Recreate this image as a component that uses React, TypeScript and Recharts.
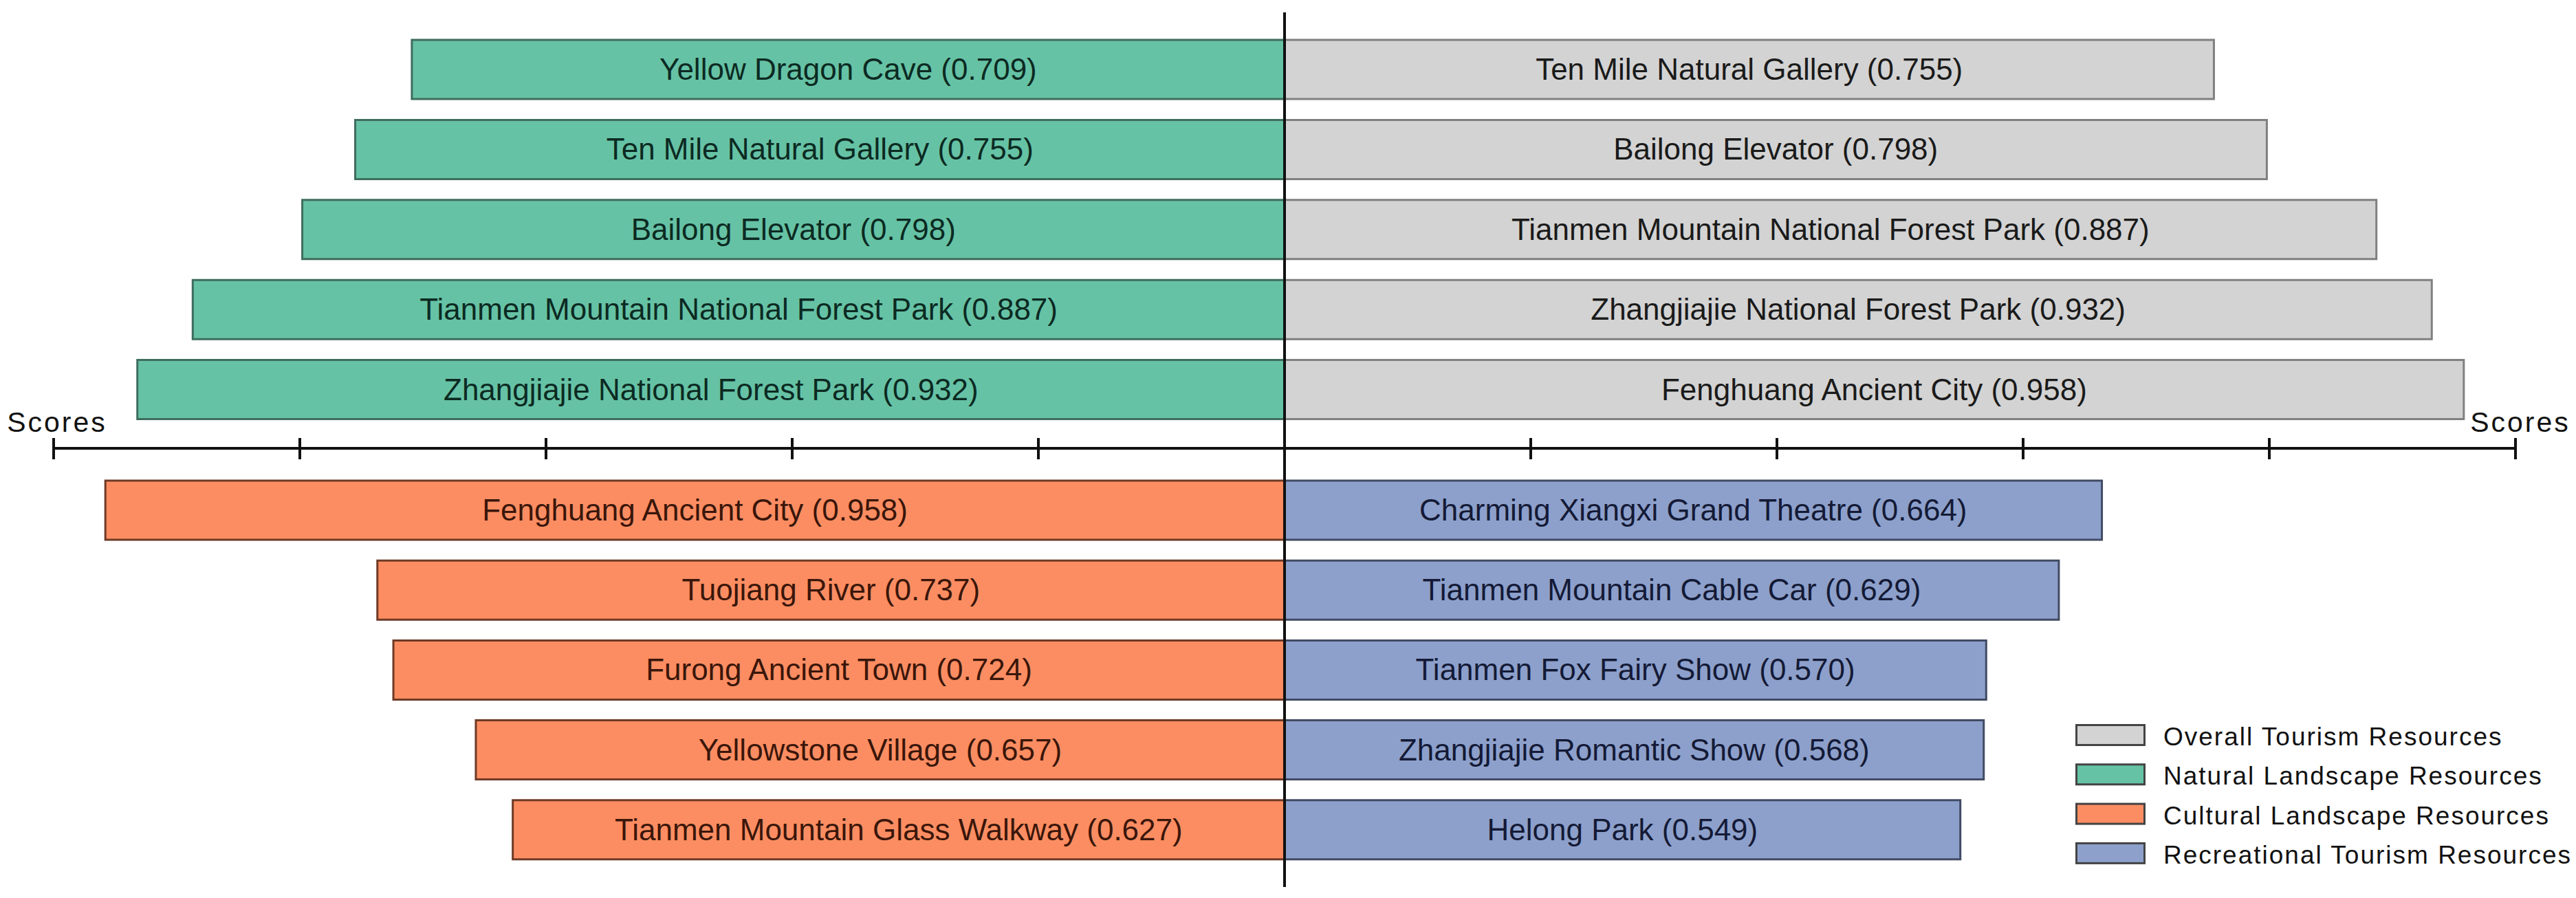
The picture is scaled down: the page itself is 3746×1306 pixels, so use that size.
import React from "react";
import { BarChart, Bar, XAxis, YAxis, ReferenceLine, LabelList, Label, Legend } from "recharts";

// top half: natural (left) vs overall (right)
const naturalNames = [
  "Yellow Dragon Cave",
  "Ten Mile Natural Gallery",
  "Bailong Elevator",
  "Tianmen Mountain National Forest Park",
  "Zhangjiajie National Forest Park",
];
const naturalScores = [0.709, 0.755, 0.798, 0.887, 0.932];

const overallNames = [
  "Ten Mile Natural Gallery",
  "Bailong Elevator",
  "Tianmen Mountain National Forest Park",
  "Zhangjiajie National Forest Park",
  "Fenghuang Ancient City",
];
const overallScores = [0.755, 0.798, 0.887, 0.932, 0.958];

// bottom half: cultural (left) vs recreational (right)
const culturalNames = [
  "Fenghuang Ancient City",
  "Tuojiang River",
  "Furong Ancient Town",
  "Yellowstone Village",
  "Tianmen Mountain Glass Walkway",
];
const culturalScores = [0.958, 0.737, 0.724, 0.657, 0.627];

const recreationalNames = [
  "Charming Xiangxi Grand Theatre",
  "Tianmen Mountain Cable Car",
  "Tianmen Fox Fairy Show",
  "Zhangjiajie Romantic Show",
  "Helong Park",
];
const recreationalScores = [0.664, 0.629, 0.57, 0.568, 0.549];

const axisTicks = [-1, -0.8, -0.6, -0.4, -0.2, 0.2, 0.4, 0.6, 0.8, 1];
const axisTitle = "Scores";

const legendNames = [
  "Overall Tourism Resources",
  "Natural Landscape Resources",
  "Cultural Landscape Resources",
  "Recreational Tourism Resources",
];

const FONT = '"Liberation Sans", Arial, sans-serif';
const W = 3746;

const colors = {
  overall: { fill: "#d3d3d3", stroke: "#808080", text: "#1a1a1a" },
  natural: { fill: "#66c2a5", stroke: "#3e6d5e", text: "#0c2a22" },
  cultural: { fill: "#fc8d62", stroke: "#6e3a26", text: "#3a160a" },
  recreational: { fill: "#8da0cb", stroke: "#424b64", text: "#141a36" },
};
const legendColors = [colors.overall, colors.natural, colors.cultural, colors.recreational];

const fmt = (n: string, v: number) => `${n} (${v.toFixed(3)})`;

const topData = naturalScores.map((v, i) => ({
  row: `t${i}`,
  left: -v,
  right: overallScores[i],
  leftLabel: fmt(naturalNames[i], v),
  rightLabel: fmt(overallNames[i], overallScores[i]),
}));

const bottomData = culturalScores.map((v, i) => ({
  row: `b${i}`,
  left: -v,
  right: recreationalScores[i],
  leftLabel: fmt(culturalNames[i], v),
  rightLabel: fmt(recreationalNames[i], recreationalScores[i]),
}));

const CrossTick = (props: any) => {
  const { x, y } = props;
  return <line x1={x} x2={x} y1={y - 15} y2={y + 16} stroke="#111" strokeWidth={4} />;
};

const ScoresLabel = (props: any) => {
  const { x, y, width } = props.viewBox;
  const style = { fontFamily: FONT, fontSize: 41, letterSpacing: 3, fill: "#111" };
  return (
    <g>
      <text x={x + 5} y={y - 24} textAnchor="middle" style={style}>{axisTitle}</text>
      <text x={x + width + 7} y={y - 24} textAnchor="middle" style={style}>{axisTitle}</text>
    </g>
  );
};

// plain centered label, no wrapping (left bars have negative width)
const barLabel = (color: string) => (props: any) => {
  const { x, y, width, height, value } = props;
  return (
    <text
      x={Number(x) + Number(width) / 2}
      y={Number(y) + Number(height) / 2 + 15}
      textAnchor="middle"
      fontSize={44}
      fontFamily={FONT}
      fill={color}
    >
      {value}
    </text>
  );
};

const LegendBox = () => (
  <svg width={728} height={240} style={{ overflow: "visible" }}>
    {legendNames.map((name, i) => (
      <g key={name}>
        <rect
          x={1.5}
          y={1.5 + i * 57.3}
          width={99}
          height={29}
          fill={legendColors[i].fill}
          stroke="#444"
          strokeWidth={3}
        />
        <text x={128} y={i * 57.3 + 31} fontSize={37} letterSpacing={2} fontFamily={FONT} fill="#111">
          {name}
        </text>
      </g>
    ))}
  </svg>
);

export default function App() {
  return (
    <div style={{ position: "absolute", left: 0, top: 0, width: W, height: 1306, background: "#fff" }}>
      <div style={{ position: "absolute", left: 0, top: 0 }}>
        <BarChart
          width={W}
          height={700}
          data={topData}
          layout="vertical"
          stackOffset="sign"
          barSize={86}
          margin={{ top: 18, right: 88, bottom: 0, left: 78 }}
        >
          <XAxis
            type="number"
            domain={[-1, 1]}
            ticks={axisTicks}
            height={48}
            allowDataOverflow
            axisLine={{ stroke: "#111", strokeWidth: 4 }}
            tickLine={false}
            tickSize={0}
            tickMargin={0}
            tick={<CrossTick />}
          >
            <Label content={<ScoresLabel />} />
          </XAxis>
          <YAxis type="category" dataKey="row" hide padding={{ top: 25, bottom: 27 }} />
          <Bar dataKey="left" stackId="s" fill={colors.natural.fill} stroke={colors.natural.stroke} strokeWidth={3} isAnimationActive={false}>
            <LabelList dataKey="leftLabel" content={barLabel(colors.natural.text)} />
          </Bar>
          <Bar dataKey="right" stackId="s" fill={colors.overall.fill} stroke={colors.overall.stroke} strokeWidth={3} isAnimationActive={false}>
            <LabelList dataKey="rightLabel" content={barLabel(colors.overall.text)} />
          </Bar>
          <ReferenceLine x={0} stroke="#111" strokeWidth={4} />
        </BarChart>
      </div>
      <div style={{ position: "absolute", left: 0, top: 652 }}>
        <BarChart
          width={W}
          height={654}
          data={bottomData}
          layout="vertical"
          stackOffset="sign"
          barSize={86}
          margin={{ top: 0, right: 88, bottom: 16, left: 78 }}
        >
          <XAxis type="number" domain={[-1, 1]} hide allowDataOverflow />
          <YAxis type="category" dataKey="row" hide padding={{ top: 32, bottom: 25 }} />
          <Bar dataKey="left" stackId="s" fill={colors.cultural.fill} stroke={colors.cultural.stroke} strokeWidth={3} isAnimationActive={false}>
            <LabelList dataKey="leftLabel" content={barLabel(colors.cultural.text)} />
          </Bar>
          <Bar dataKey="right" stackId="s" fill={colors.recreational.fill} stroke={colors.recreational.stroke} strokeWidth={3} isAnimationActive={false}>
            <LabelList dataKey="rightLabel" content={barLabel(colors.recreational.text)} />
          </Bar>
          <ReferenceLine x={0} stroke="#111" strokeWidth={4} />
          <Legend
            layout="vertical"
            align="center"
            verticalAlign="middle"
            wrapperStyle={{ left: 3018, top: 401, width: 728 }}
            content={<LegendBox />}
          />
        </BarChart>
      </div>
    </div>
  );
}
